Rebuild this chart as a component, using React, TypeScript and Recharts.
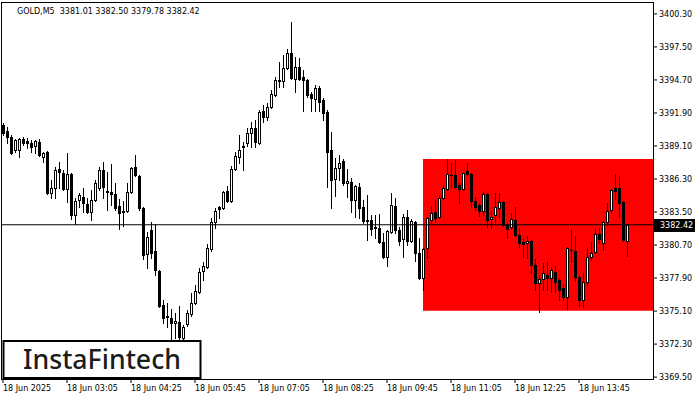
import React from 'react';
import { ComposedChart, Bar, XAxis, YAxis, ReferenceArea, ReferenceLine } from 'recharts';

const FONT = 'DejaVu Sans';

const opens = [
  3390.89, 3390.38, 3389.87, 3388.76, 3388.76, 3389.70, 3389.53, 3389.36, 3389.10, 3389.44,
  3388.17, 3388.59, 3385.12, 3385.54, 3387.15, 3386.81, 3385.46, 3386.73, 3383.25, 3384.52,
  3384.78, 3384.18, 3383.50, 3384.52, 3385.54, 3387.07, 3385.29, 3385.20, 3385.03, 3384.01,
  3383.59, 3383.59, 3385.20, 3387.32, 3386.56, 3383.84, 3379.93, 3381.98, 3380.19, 3378.50,
  3375.62, 3374.68, 3374.51, 3374.08, 3374.17, 3372.81, 3374.00, 3374.85, 3375.78, 3376.72,
  3378.50, 3378.83, 3380.36, 3382.65, 3383.93, 3383.84, 3385.29, 3384.44, 3387.15, 3388.17,
  3389.10, 3389.36, 3390.21, 3390.63, 3389.36, 3392.07, 3391.56, 3392.41, 3393.43, 3394.57,
  3394.62, 3395.72, 3396.99, 3394.79, 3395.80, 3394.96, 3394.70, 3393.51, 3393.09, 3394.02,
  3393.00, 3391.99, 3388.76, 3386.30, 3387.24, 3387.83, 3385.97, 3386.05, 3384.52, 3385.63,
  3383.93, 3382.74, 3382.82, 3382.23, 3382.14, 3380.96, 3379.68, 3381.81, 3384.01, 3381.98,
  3381.21, 3383.08, 3381.04, 3382.65, 3380.02, 3377.90, 3380.45, 3382.82, 3383.50, 3383.08,
  3384.69, 3385.46, 3386.64, 3386.64, 3385.79, 3385.46, 3386.98, 3386.73, 3384.44, 3384.10,
  3383.59, 3385.03, 3382.91, 3383.25, 3383.84, 3384.35, 3382.40, 3382.23, 3382.82, 3381.55,
  3380.96, 3380.87, 3381.04, 3379.00, 3377.48, 3377.82, 3378.16, 3377.90, 3378.41, 3377.73,
  3377.05, 3376.29, 3380.28, 3380.19, 3377.99, 3376.04, 3377.56, 3379.68, 3380.11, 3381.64,
  3380.87, 3382.65, 3383.67, 3385.54, 3385.54, 3384.35, 3381.01,
];

const highs = [
  3391.08, 3390.72, 3390.04, 3389.70, 3389.78, 3389.87, 3389.78, 3389.61, 3389.61, 3389.70,
  3388.59, 3388.68, 3386.22, 3387.32, 3387.74, 3387.07, 3388.51, 3386.81, 3384.69, 3385.12,
  3385.54, 3384.69, 3385.37, 3386.22, 3387.32, 3387.74, 3386.90, 3387.57, 3385.97, 3384.61,
  3384.44, 3385.97, 3387.32, 3388.34, 3386.64, 3383.93, 3381.81, 3382.65, 3382.48, 3378.58,
  3376.04, 3375.79, 3375.27, 3374.93, 3375.53, 3373.91, 3375.19, 3376.63, 3377.31, 3378.75,
  3379.26, 3380.79, 3382.99, 3383.84, 3384.01, 3385.29, 3385.71, 3387.40, 3388.59, 3390.04,
  3389.44, 3390.63, 3391.14, 3391.31, 3392.16, 3392.58, 3392.75, 3393.85, 3394.96, 3396.23,
  3396.82, 3397.33, 3399.62, 3396.65, 3396.57, 3395.55, 3394.79, 3393.68, 3394.28, 3394.19,
  3393.17, 3392.16, 3390.29, 3388.08, 3388.34, 3388.00, 3387.15, 3386.39, 3385.79, 3385.97,
  3384.52, 3384.94, 3383.25, 3383.25, 3383.33, 3381.72, 3381.98, 3385.12, 3384.69, 3382.23,
  3383.33, 3383.67, 3382.91, 3382.74, 3381.30, 3380.45, 3383.08, 3384.01, 3384.52, 3384.94,
  3385.79, 3388.00, 3387.66, 3387.91, 3385.97, 3386.90, 3387.66, 3386.81, 3384.78, 3384.27,
  3385.20, 3385.12, 3383.59, 3385.12, 3385.12, 3384.44, 3382.65, 3383.42, 3383.93, 3382.14,
  3381.30, 3381.47, 3381.13, 3379.51, 3378.16, 3379.17, 3379.26, 3378.83, 3378.92, 3377.90,
  3377.39, 3380.53, 3381.98, 3381.47, 3378.16, 3378.33, 3380.45, 3380.96, 3382.06, 3382.14,
  3382.74, 3384.27, 3385.46, 3386.73, 3386.56, 3384.44, 3382.50,
];

const lows = [
  3390.04, 3389.36, 3388.42, 3388.59, 3388.17, 3389.19, 3388.93, 3388.59, 3388.51, 3388.25,
  3387.74, 3385.03, 3384.69, 3384.69, 3385.54, 3385.37, 3384.35, 3382.91, 3382.48, 3383.93,
  3383.50, 3383.42, 3382.82, 3384.44, 3385.37, 3384.69, 3383.67, 3384.10, 3383.67, 3382.06,
  3382.31, 3383.50, 3385.12, 3386.56, 3383.67, 3379.51, 3378.75, 3379.60, 3378.16, 3375.44,
  3374.08, 3373.75, 3372.64, 3372.81, 3372.72, 3372.64, 3373.83, 3374.68, 3375.70, 3376.63,
  3377.73, 3378.75, 3380.19, 3382.14, 3382.99, 3383.76, 3384.35, 3384.35, 3387.07, 3387.66,
  3387.07, 3389.10, 3389.02, 3389.02, 3389.27, 3391.14, 3391.31, 3392.32, 3393.34, 3394.11,
  3394.11, 3395.63, 3394.79, 3393.68, 3394.70, 3392.07, 3393.26, 3392.07, 3392.07, 3392.07,
  3391.31, 3385.63, 3383.84, 3384.86, 3386.22, 3385.79, 3384.78, 3383.50, 3383.08, 3382.99,
  3382.57, 3381.13, 3381.55, 3381.30, 3380.87, 3379.60, 3378.92, 3381.72, 3381.72, 3380.70,
  3379.68, 3380.70, 3380.96, 3379.34, 3377.82, 3376.89, 3379.60, 3382.57, 3382.65, 3382.99,
  3384.61, 3385.37, 3385.63, 3385.54, 3384.27, 3385.37, 3386.64, 3383.93, 3383.67, 3383.16,
  3383.25, 3382.23, 3382.14, 3382.57, 3383.08, 3382.31, 3381.30, 3382.06, 3381.47, 3380.53,
  3379.68, 3379.60, 3378.33, 3376.89, 3375.02, 3376.89, 3376.89, 3376.71, 3376.71, 3376.04,
  3376.04, 3375.27, 3379.26, 3377.65, 3375.53, 3375.44, 3377.31, 3379.43, 3380.02, 3380.87,
  3380.28, 3382.40, 3383.42, 3384.61, 3383.08, 3381.04, 3379.78,
];

const closes = [
  3390.21, 3389.87, 3388.51, 3389.61, 3389.70, 3389.36, 3389.36, 3389.02, 3389.53, 3388.34,
  3388.51, 3385.12, 3385.54, 3387.07, 3386.90, 3385.46, 3386.73, 3383.25, 3384.44, 3384.94,
  3384.27, 3383.50, 3384.52, 3385.97, 3387.07, 3385.63, 3385.20, 3385.03, 3383.84, 3383.42,
  3383.50, 3385.20, 3387.24, 3386.64, 3383.84, 3379.85, 3381.38, 3380.02, 3378.58, 3375.53,
  3374.51, 3374.59, 3374.08, 3374.25, 3372.89, 3373.75, 3374.93, 3375.78, 3376.80, 3378.41,
  3378.92, 3380.45, 3382.65, 3383.59, 3383.76, 3385.20, 3384.44, 3387.15, 3388.25, 3388.76,
  3389.02, 3390.21, 3390.63, 3389.44, 3391.99, 3391.56, 3392.41, 3393.51, 3394.70, 3394.66,
  3395.72, 3396.99, 3394.87, 3395.80, 3394.79, 3394.70, 3393.43, 3393.17, 3394.02, 3392.83,
  3391.90, 3388.59, 3386.22, 3387.24, 3387.66, 3385.97, 3386.14, 3384.52, 3385.71, 3383.84,
  3382.74, 3382.82, 3382.06, 3382.14, 3380.96, 3379.68, 3381.89, 3384.10, 3381.98, 3381.04,
  3383.08, 3381.04, 3382.74, 3380.02, 3377.90, 3380.36, 3382.99, 3383.42, 3382.99, 3384.69,
  3385.54, 3386.73, 3386.60, 3385.63, 3385.46, 3386.81, 3386.73, 3384.44, 3383.93, 3383.59,
  3385.03, 3382.82, 3383.08, 3383.93, 3384.35, 3382.40, 3382.06, 3382.91, 3381.55, 3380.87,
  3380.83, 3381.04, 3379.00, 3377.48, 3377.82, 3378.33, 3377.90, 3378.58, 3377.56, 3376.89,
  3376.29, 3380.45, 3380.24, 3377.99, 3376.04, 3377.56, 3379.68, 3380.02, 3381.64, 3381.21,
  3382.65, 3383.59, 3385.37, 3385.29, 3384.27, 3381.13, 3382.42,
];

const xTickIndex = [0, 16, 32, 48, 64, 80, 96, 112, 128, 144];
const xTickLabels = [
  '18 Jun 2025', '18 Jun 03:05', '18 Jun 04:25', '18 Jun 05:45', '18 Jun 07:05',
  '18 Jun 08:25', '18 Jun 09:45', '18 Jun 11:05', '18 Jun 12:25', '18 Jun 13:45',
];
const yTicks = [
  3400.3, 3397.5, 3394.7, 3391.9, 3389.1, 3386.3, 3383.5, 3380.7, 3377.9, 3375.1, 3372.3, 3369.5,
];
const yDomain = [3369.34, 3401.31];
const xDomain = [-0.5, 162.5];

const lastPrice = 3382.42;
const zoneTop = 3388.0;
const zoneBottom = 3375.13;
const zoneStartIndex = 105;

const headerText = 'GOLD,M5  3381.01 3382.50 3379.78 3382.42';
const logoText = 'InstaFintech';

const data = opens.map((o, i) => ({ i, o, h: highs[i], l: lows[i], c: closes[i] }));

const Candle = (props: any) => {
  const { x, y, width, height, payload } = props;
  if (!payload || x == null || y == null) return null;
  const { o, h, l, c } = payload;
  const top = Math.min(y, y + height);
  const hgt = Math.abs(height);
  const cx = Math.round(x + width / 2);
  const k = h > l ? hgt / (h - l) : 0;
  const yo = top + (h - o) * k;
  const yc = top + (h - c) * k;
  const bt = Math.round(Math.min(yo, yc));
  const bb = Math.round(Math.max(yo, yc));
  const bull = c >= o;
  return (
    <g>
      <line x1={cx + 0.5} x2={cx + 0.5} y1={Math.round(top)} y2={Math.round(top + hgt) + 1} stroke="#000" strokeWidth={1} />
      {bull ? (
        <rect x={cx - 0.5} y={bt + 0.5} width={2} height={Math.max(1, bb - bt)} fill="#fff" stroke="#000" strokeWidth={1} />
      ) : (
        <rect x={cx - 1} y={bt} width={3} height={Math.max(1, bb - bt + 1)} fill="#000" />
      )}
    </g>
  );
};

const XTick = (props: any) => {
  const { x, y, payload } = props;
  const idx = xTickIndex.indexOf(payload.value);
  return (
    <text x={x} y={y} dy="0.71em" textAnchor="start" fontFamily={FONT} fontSize={8} fill="#000">
      {idx >= 0 ? xTickLabels[idx] : ''}
    </text>
  );
};

const PriceTag = (props: any) => {
  const vb = props.viewBox;
  if (!vb) return null;
  const right = vb.x + vb.width;
  const yy = vb.y;
  return (
    <g>
      <rect x={right + 1} y={Math.round(yy) - 6} width={41} height={13} fill="#000" />
      <text x={right + 7} y={yy} dy="0.36em" fontFamily={FONT} fontSize={8} fill="#fff">
        {lastPrice.toFixed(2)}
      </text>
    </g>
  );
};

export default function App() {
  return (
    <div style={{ position: 'absolute', left: 0, top: 0, width: 700, height: 400, background: '#fff' }}>
      <ComposedChart
        width={700}
        height={400}
        data={data}
        margin={{ top: 2, right: 0, bottom: 0, left: 1 }}
      >
        <XAxis
          dataKey="i"
          type="number"
          domain={xDomain}
          allowDataOverflow
          ticks={xTickIndex}
          interval={0}
          height={21}
          axisLine={false}
          tickLine={{ stroke: '#000' }}
          tickSize={4}
          tickMargin={2}
          tick={<XTick />}
        />
        <YAxis
          orientation="right"
          type="number"
          domain={yDomain}
          allowDataOverflow
          ticks={yTicks}
          interval={0}
          width={47}
          axisLine={false}
          tickLine={{ stroke: '#000' }}
          tickSize={4}
          tickMargin={2}
          tickFormatter={(v: number) => v.toFixed(2)}
          tick={{ fill: '#000', fontFamily: FONT, fontSize: 8, textAnchor: 'start' }}
        />
        <ReferenceArea
          x1={zoneStartIndex}
          x2={xDomain[1]}
          y1={zoneBottom}
          y2={zoneTop}
          fill="#ff0000"
          fillOpacity={1}
          stroke="none"
          ifOverflow="visible"
        />
        <Bar
          dataKey={(d: any) => [d.l, d.h]}
          barSize={3}
          shape={<Candle />}
          isAnimationActive={false}
        />
        <ReferenceLine y={lastPrice} stroke="#000" strokeWidth={1} label={<PriceTag />} />
      </ComposedChart>
      <svg
        width={700}
        height={400}
        style={{ position: 'absolute', left: 0, top: 0, pointerEvents: 'none' }}
      >
        <rect x={1.5} y={2.5} width={652} height={377} fill="none" stroke="#000" strokeWidth={1} />
        <text x={17} y={14} fontFamily={FONT} fontSize={8} fill="#000" style={{ whiteSpace: 'pre' }}>
          {headerText}
        </text>
        <rect x={3.5} y={341} width={197} height={37} fill="#fff" stroke="#000" strokeWidth={2} />
        <text
          x={23}
          y={369}
          fontFamily="Noto Sans"
          fontWeight={500}
          fontSize={27.5}
          fill="#1c1c1c"
          textLength={158}
          lengthAdjust="spacingAndGlyphs"
        >
          {logoText}
        </text>
      </svg>
    </div>
  );
}
